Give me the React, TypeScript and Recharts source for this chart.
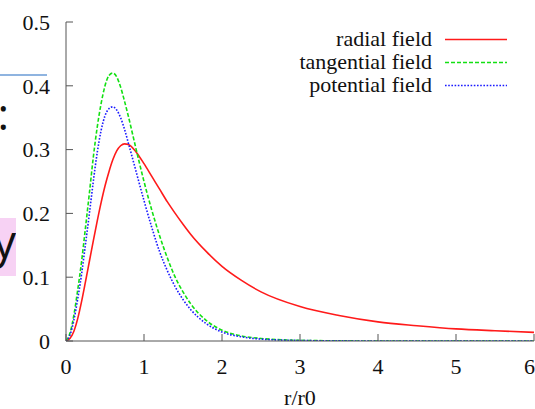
import { ComposedChart, Line, XAxis, YAxis } from "recharts";

// r/r0 sample positions shared by the three curves
const rValues = [0, 0.05, 0.1, 0.15, 0.2, 0.25, 0.3, 0.35, 0.4, 0.45, 0.5, 0.55, 0.6, 0.65, 0.7, 0.75, 0.8, 0.9, 1.0, 1.1, 1.2, 1.3, 1.4, 1.5, 1.6, 1.8, 2.0, 2.25, 2.5, 3.0, 3.5, 4.0, 4.5, 5.0, 5.5, 6.0];

const radial = [0, 0.004, 0.015, 0.035, 0.062, 0.093, 0.125, 0.157, 0.188, 0.217, 0.243, 0.265, 0.284, 0.298, 0.306, 0.309, 0.308, 0.296, 0.278, 0.258, 0.238, 0.218, 0.2, 0.183, 0.167, 0.14, 0.117, 0.095, 0.077, 0.054, 0.04, 0.03, 0.024, 0.019, 0.016, 0.0135];
const tangential = [0, 0.012, 0.04, 0.08, 0.125, 0.178, 0.232, 0.288, 0.335, 0.372, 0.4, 0.416, 0.42, 0.414, 0.398, 0.376, 0.352, 0.3, 0.25, 0.205, 0.165, 0.13, 0.1, 0.077, 0.058, 0.032, 0.017, 0.008, 0.004, 0.001, 0.0003, 0, 0, 0, 0, 0];
const potential = [0, 0.009, 0.032, 0.066, 0.105, 0.152, 0.2, 0.25, 0.295, 0.33, 0.353, 0.364, 0.367, 0.362, 0.35, 0.332, 0.31, 0.265, 0.22, 0.178, 0.14, 0.11, 0.085, 0.065, 0.049, 0.027, 0.014, 0.0065, 0.003, 0.0008, 0.0002, 0, 0, 0, 0, 0];

const seriesNames = ["radial field", "tangential field", "potential field"];
const xTicks = [0, 1, 2, 3, 4, 5, 6];
const yTicks = [0, 0.1, 0.2, 0.3, 0.4, 0.5];

const data = rValues.map((r, i) => ({
  r,
  radial: radial[i],
  tangential: tangential[i],
  potential: potential[i],
}));

const font = "'Liberation Serif', 'Times New Roman', serif";
const axisColor = "#555";

const series = [
  { key: "radial", name: seriesNames[0], color: "#ff1a1a", dash: undefined, width: 1.6 },
  { key: "tangential", name: seriesNames[1], color: "#12e012", dash: "4 2", width: 1.6 },
  { key: "potential", name: seriesNames[2], color: "#1a1aff", dash: "1.6 1.6", width: 1.6 },
];

function KeyBox() {
  return (
    <svg width={535} height={100} style={{ position: "absolute", left: 0, top: 20, pointerEvents: "none" }}>
      {series.map((s, i) => (
        <g key={s.key}>
          <text x={432} y={20.5 + i * 23} textAnchor="end" fontFamily={font} fontSize={22} fill="#111" dominantBaseline="middle">
            {s.name}
          </text>
          <line x1={445} x2={507} y1={19.5 + i * 23} y2={19.5 + i * 23} stroke={s.color} strokeWidth={s.width} strokeDasharray={s.dash} />
        </g>
      ))}
    </svg>
  );
}

export default function App() {
  return (
    <div style={{ position: "absolute", left: 0, top: 0, width: 535, height: 409, background: "#fff", overflow: "hidden" }}>
      {/* leftovers of the slide behind the plot */}
      <div style={{ position: "absolute", left: 0, top: 74, width: 47, height: 2, background: "#8fb4e0" }} />
      <div style={{ position: "absolute", left: -7, top: 88, width: 16, fontFamily: "'Open Sans', sans-serif", fontSize: 44, lineHeight: "50px", textAlign: "right", color: "#111" }}>:</div>
      <div style={{ position: "absolute", left: 0, top: 218, width: 16, height: 58, background: "#f7d2f4", overflow: "hidden" }}>
        <div style={{ position: "absolute", right: 0, top: -6, fontFamily: "'Open Sans', sans-serif", fontSize: 46, lineHeight: "56px", color: "#111" }}>y</div>
      </div>

      <ComposedChart width={535} height={409} data={data} margin={{ top: 22, right: 1, bottom: 0, left: 0 }} style={{ position: "absolute", left: 0, top: 0 }}>
        <XAxis
          xAxisId="b"
          dataKey="r"
          type="number"
          domain={[0, 6]}
          ticks={xTicks}
          allowDataOverflow
          height={68}
          tickSize={-7}
          tickMargin={24}
          stroke={axisColor}
          tick={{ fill: "#111", fontSize: 22, fontFamily: font }}
          label={{ value: "r/r0", position: "insideBottom", offset: 4, fill: "#111", fontSize: 22, fontFamily: font }}
        />
        <XAxis xAxisId="t" orientation="top" dataKey="r" type="number" domain={[0, 6]} ticks={xTicks} allowDataOverflow height={0} tickSize={-7} tick={false} stroke={axisColor} />
        <YAxis
          yAxisId="l"
          type="number"
          domain={[0, 0.5]}
          ticks={yTicks}
          allowDataOverflow
          width={66}
          tickSize={-7}
          tickMargin={23}
          stroke={axisColor}
          tick={{ fill: "#111", fontSize: 22, fontFamily: font }}
        />
        <YAxis yAxisId="r" orientation="right" type="number" domain={[0, 0.5]} ticks={yTicks} allowDataOverflow width={0} tickSize={-7} tick={false} stroke={axisColor} />
        {series.map((s) => (
          <Line
            key={s.key}
            xAxisId="b"
            yAxisId="l"
            type="monotone"
            dataKey={s.key}
            name={s.name}
            stroke={s.color}
            strokeWidth={s.width}
            strokeDasharray={s.dash}
            dot={false}
            isAnimationActive={false}
          />
        ))}
      </ComposedChart>
      <KeyBox />
    </div>
  );
}
